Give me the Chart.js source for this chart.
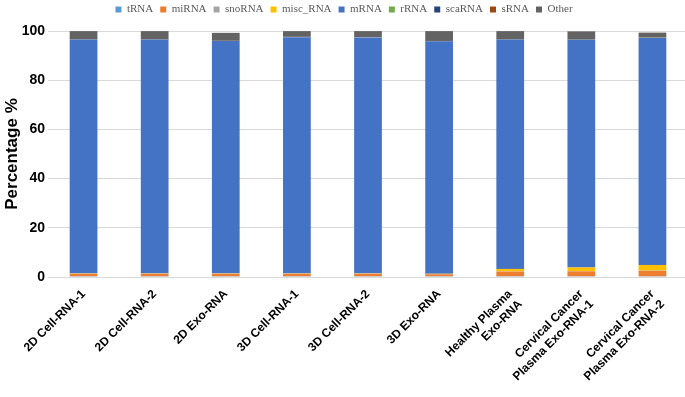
<!DOCTYPE html>
<html>
<head>
<meta charset="utf-8">
<script src="https://cdn.jsdelivr.net/npm/chart.js@4.4.1/dist/chart.umd.min.js"></script>
<style>
  html, body { margin: 0; padding: 0; background: #fff; overflow: hidden; }
  #wrap { width: 690px; height: 397px; }
</style>
</head>
<body>
<div id="wrap"><canvas id="rnaChart" width="690" height="397"></canvas></div>
<script>
// Samples
const samples = [
  '2D Cell-RNA-1', '2D Cell-RNA-2', '2D Exo-RNA', '3D Cell-RNA-1', '3D Cell-RNA-2',
  '3D Exo-RNA', ['Healthy Plasma', 'Exo-RNA'], ['Cervical Cancer', 'Plasma Exo-RNA-1'],
  ['Cervical Cancer', 'Plasma Exo-RNA-2']
];

// Percentage of reads per RNA type
const tRNA    = [0.3, 0.3, 0.3, 0.3, 0.3, 0.3, 0.3, 0.3, 0.3];
const miRNA   = [1.0, 1.0, 1.0, 1.0, 1.0, 0.8, 1.9, 2.0, 2.2];
const snoRNA  = [0.1, 0.1, 0.1, 0.1, 0.1, 0.1, 0.1, 0.1, 0.1];
const miscRNA = [0.1, 0.1, 0.1, 0.1, 0.1, 0.1, 1.0, 1.5, 2.3];
const mRNA    = [95.0, 95.0, 94.4, 96.0, 95.9, 94.5, 93.2, 92.5, 92.3];
const rRNA    = [0.05, 0.05, 0.05, 0.05, 0.05, 0.05, 0.05, 0.05, 0.05];
const scaRNA  = [0.05, 0.05, 0.05, 0.05, 0.05, 0.05, 0.05, 0.05, 0.05];
const sRNA    = [0.05, 0.05, 0.05, 0.05, 0.05, 0.05, 0.05, 0.05, 0.05];
const other   = [3.3, 3.3, 3.2, 2.3, 2.4, 4.0, 3.3, 3.3, 2.0];

const yTicks = [0, 20, 40, 60, 80, 100];

const series = [
  { label: 'tRNA', data: tRNA, color: '#5B9BD5' },
  { label: 'miRNA', data: miRNA, color: '#ED7D31' },
  { label: 'snoRNA', data: snoRNA, color: '#A5A5A5' },
  { label: 'misc_RNA', data: miscRNA, color: '#FFC000' },
  { label: 'mRNA', data: mRNA, color: '#4472C4' },
  { label: 'rRNA', data: rRNA, color: '#70AD47' },
  { label: 'scaRNA', data: scaRNA, color: '#264478' },
  { label: 'sRNA', data: sRNA, color: '#9E480E' },
  { label: 'Other', data: other, color: '#636363' }
];

// leave a bit more room under the legend
const legendGap = {
  id: 'legendGap',
  beforeInit(chart) {
    const fit = chart.legend.fit;
    chart.legend.fit = function () {
      fit.bind(chart.legend)();
      this.height += 6;
    };
  }
};

document.addEventListener('DOMContentLoaded', () => {
  const ctx = document.getElementById('rnaChart').getContext('2d');
  new Chart(ctx, {
    type: 'bar',
    data: {
      labels: samples,
      datasets: series.map(s => ({
        label: s.label,
        data: s.data,
        backgroundColor: s.color,
        borderWidth: 0,
        categoryPercentage: 1,
        barPercentage: 0.39
      }))
    },
    plugins: [legendGap],
    options: {
      responsive: false,
      animation: false,
      layout: { padding: { left: 0, right: 2, top: -3, bottom: 0 } },
      plugins: {
        legend: {
          position: 'top',
          labels: {
            boxWidth: 6,
            boxHeight: 6,
            padding: 7,
            color: '#595959',
            font: { family: 'Liberation Serif', size: 11 }
          }
        },
        tooltip: { enabled: false }
      },
      scales: {
        x: {
          stacked: true,
          grid: { display: false },
          border: { display: false },
          ticks: {
            minRotation: 45,
            maxRotation: 45,
            autoSkip: false,
            color: '#000',
            padding: 2,
            font: { family: 'Liberation Sans', size: 12, weight: 'bold' }
          },
          afterFit: (scale) => { scale.height = 120; }
        },
        y: {
          stacked: true,
          min: 0,
          max: 100,
          afterBuildTicks: (scale) => { scale.ticks = yTicks.map(v => ({ value: v })); },
          grid: { color: '#D9D9D9', lineWidth: 1, drawTicks: false },
          border: { display: false },
          ticks: {
            color: '#000',
            padding: 3,
            font: { family: 'Liberation Sans', size: 14, weight: 'bold' }
          },
          title: {
            display: true,
            text: 'Percentage %',
            color: '#000',
            padding: { top: 2, bottom: 0 },
            font: { family: 'Liberation Sans', size: 17, weight: 'bold' }
          },
          afterFit: (scale) => { scale.width = 48; }
        }
      }
    }
  });
});
</script>
</body>
</html>
